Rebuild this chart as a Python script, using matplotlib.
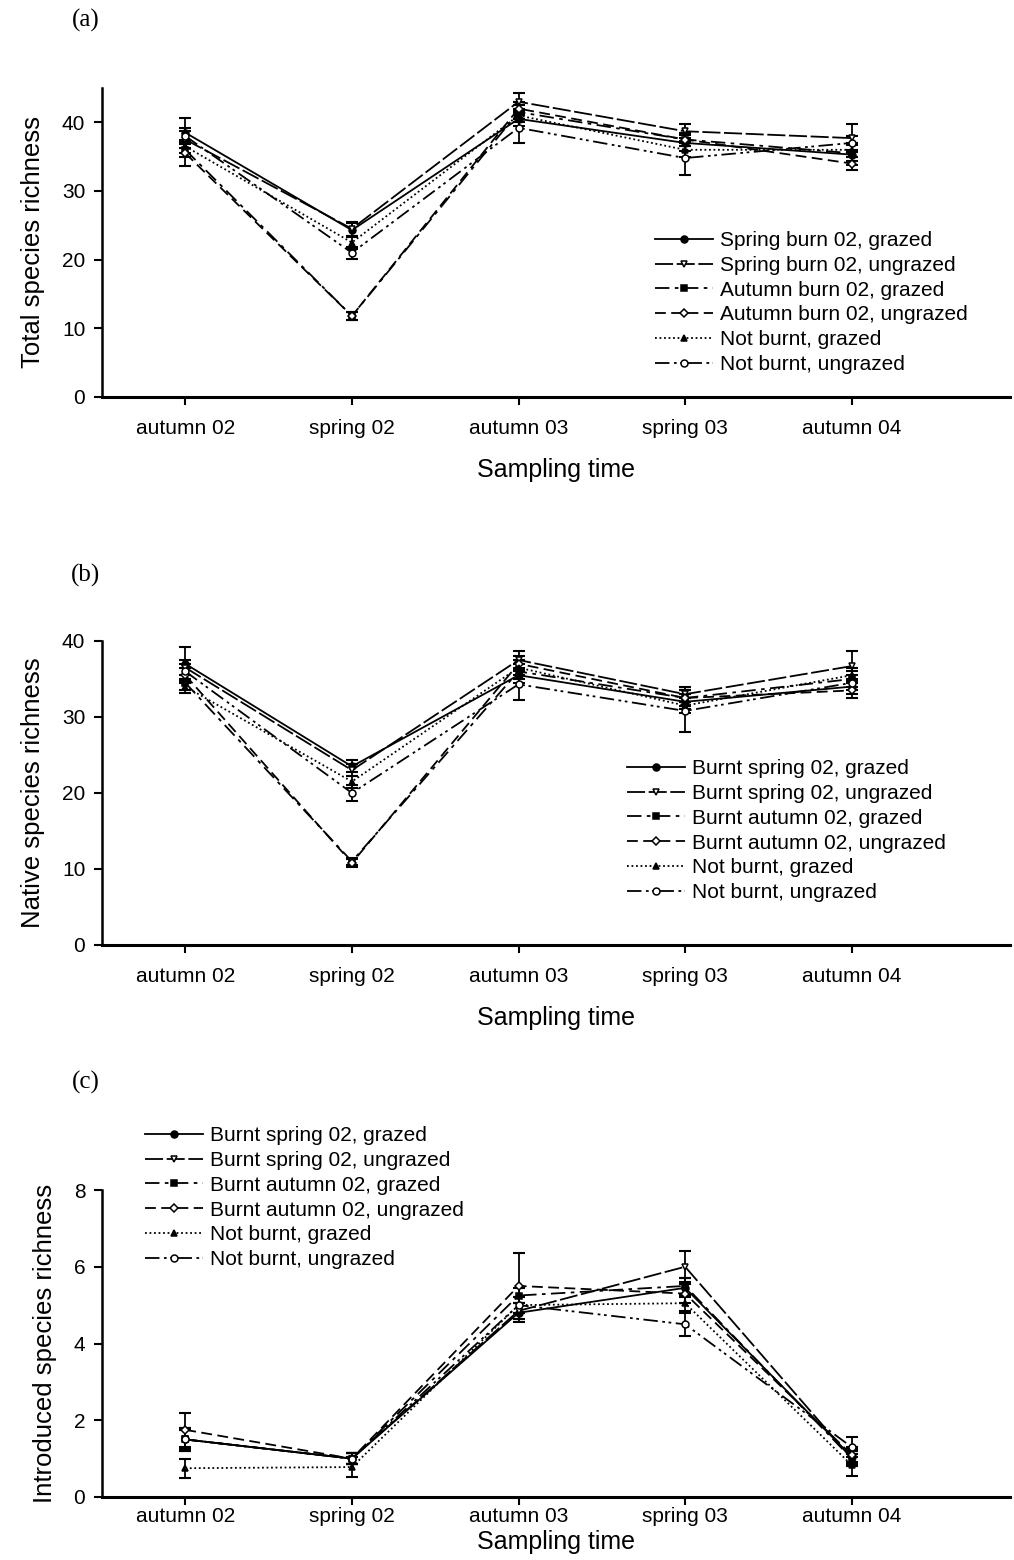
import matplotlib
matplotlib.use("Agg")
import matplotlib.pyplot as plt

plt.rcParams['font.family'] = ['Liberation Sans', 'DejaVu Sans']

times = ["autumn 02", "spring 02", "autumn 03", "spring 03", "autumn 04"]

labels_a = ["Spring burn 02, grazed", "Spring burn 02, ungrazed", "Autumn burn 02, grazed",
            "Autumn burn 02, ungrazed", "Not burnt, grazed", "Not burnt, ungrazed"]
labels_bc = ["Burnt spring 02, grazed", "Burnt spring 02, ungrazed", "Burnt autumn 02, grazed",
             "Burnt autumn 02, ungrazed", "Not burnt, grazed", "Not burnt, ungrazed"]

# Panel (a) total species richness
a_sbg = [38.5, 24.3, 40.5, 37.0, 35.3]
a_sbu = [37.5, 24.5, 43.0, 38.7, 37.7]
a_abg = [36.0, 11.8, 41.5, 37.5, 35.5]
a_abu = [35.5, 11.8, 42.0, 37.5, 34.0]
a_nbg = [36.5, 22.5, 41.0, 36.0, 36.0]
a_nbu = [38.0, 21.0, 39.2, 34.8, 37.0]
a_err_sbg = [2.2, 1.0, 1.0, 1.2, 1.5]
a_err_sbu = [1.2, 1.0, 1.3, 1.0, 2.0]
a_err_abg = [1.0, 0.6, 1.0, 1.0, 1.2]
a_err_abu = [1.8, 0.6, 1.0, 1.0, 1.0]
a_err_nbg = [1.0, 1.0, 1.0, 1.0, 1.0]
a_err_nbu = [1.2, 0.9, 2.2, 2.5, 1.0]

# Panel (b) native species richness
b_sbg = [37.0, 23.5, 35.5, 32.0, 34.0]
b_sbu = [36.5, 23.0, 37.5, 33.0, 36.7]
b_abg = [34.5, 11.0, 36.0, 32.5, 35.0]
b_abu = [35.5, 10.8, 37.0, 32.5, 33.5]
b_nbg = [34.0, 21.5, 36.5, 31.5, 35.5]
b_nbu = [36.0, 20.0, 34.3, 30.8, 34.5]
b_err_sbg = [2.2, 0.8, 1.0, 1.0, 1.0]
b_err_sbu = [1.0, 0.8, 1.2, 1.0, 2.0]
b_err_abg = [1.0, 0.5, 1.0, 1.0, 1.0]
b_err_abu = [1.0, 0.5, 1.0, 1.0, 1.0]
b_err_nbg = [0.8, 0.8, 1.0, 1.0, 1.0]
b_err_nbu = [1.0, 1.0, 2.0, 2.8, 1.0]

# Panel (c) introduced species richness
c_sbg = [1.5, 1.0, 4.8, 5.45, 1.05]
c_sbu = [1.5, 1.0, 4.85, 6.0, 1.0]
c_abg = [1.5, 1.0, 5.25, 5.5, 1.0]
c_abu = [1.75, 1.0, 5.5, 5.3, 1.1]
c_nbg = [0.75, 0.78, 5.0, 5.05, 0.83]
c_nbu = [1.5, 1.0, 5.0, 4.5, 1.3]
c_err_sbg = [0.3, 0.15, 0.25, 0.25, 0.2]
c_err_sbu = [0.25, 0.15, 0.2, 0.4, 0.2]
c_err_abg = [0.25, 0.15, 0.2, 0.2, 0.2]
c_err_abu = [0.45, 0.15, 0.85, 0.25, 0.2]
c_err_nbg = [0.25, 0.25, 0.2, 0.2, 0.28]
c_err_nbu = [0.3, 0.15, 0.2, 0.3, 0.27]

styles = [
    dict(ls='-', marker='o', mfc='black'),
    dict(ls=(0, (10, 2)), marker='v', mfc='white'),
    dict(ls=(0, (8, 3, 2, 3)), marker='s', mfc='black'),
    dict(ls=(0, (6, 3)), marker='D', mfc='white'),
    dict(ls=(0, (1, 1.5)), marker='^', mfc='black'),
    dict(ls=(0, (8, 2.5, 1.5, 2, 1.5, 2.5)), marker='o', mfc='white'),
]

fig = plt.figure(figsize=(10.14, 15.6), dpi=100)
L, W = 102 / 1014, 908 / 1014
ax_a = fig.add_axes([L, 1 - 397 / 1560, W, 309 / 1560])
ax_b = fig.add_axes([L, 1 - 945 / 1560, W, 304 / 1560])
ax_c = fig.add_axes([L, 1 - 1497 / 1560, W, 307 / 1560])

x = list(range(1, len(times) + 1))


def draw(ax, series, errs, labels, ylim, yticks, ylabel, leg_xy, xpad, xlabpad):
    handles = []
    for vals, err, lab, st in zip(series, errs, labels, styles):
        ms = 5 if st['marker'] != 'D' else 4.5
        ax.errorbar(x, vals, yerr=err, fmt='none', ecolor='black', elinewidth=1.3,
                    capsize=4.5, capthick=1.5, zorder=2)
        h, = ax.plot(x, vals, color='black', lw=1.3, ls=st['ls'], marker=st['marker'],
                     mfc=st['mfc'], mec='black', mew=1.1, ms=ms, label=lab, zorder=3)
        handles.append(h)
    ax.set_xlim(0.5, 5.95)
    ax.set_ylim(*ylim)
    ax.set_yticks(yticks)
    ax.set_xticks(x)
    ax.set_xticklabels(times)
    for s in ['top', 'right']:
        ax.spines[s].set_visible(False)
    ax.spines['left'].set_linewidth(1.8)
    ax.spines['bottom'].set_linewidth(2.2)
    ax.tick_params(axis='both', direction='out', length=6, width=1.5, labelsize=15, pad=6)
    ax.tick_params(axis='x', pad=xpad)
    ax.set_ylabel(ylabel, fontsize=18.5, labelpad=12)
    ax.set_xlabel("Sampling time", fontsize=18, labelpad=xlabpad)
    leg = ax.legend(handles=handles, loc='upper left', bbox_to_anchor=leg_xy,
                    bbox_transform=fig.transFigure, frameon=False, fontsize=15,
                    handlelength=2.8, handletextpad=0.3, labelspacing=0.28,
                    borderpad=0, borderaxespad=0)
    leg.set_clip_on(False)


draw(ax_a, [a_sbg, a_sbu, a_abg, a_abu, a_nbg, a_nbu],
     [a_err_sbg, a_err_sbu, a_err_abg, a_err_abu, a_err_nbg, a_err_nbu],
     labels_a, (0, 45), [0, 10, 20, 30, 40], "Total species richness",
     (655 / 1014, 1 - 231 / 1560), 10, 14)
draw(ax_b, [b_sbg, b_sbu, b_abg, b_abu, b_nbg, b_nbu],
     [b_err_sbg, b_err_sbu, b_err_abg, b_err_abu, b_err_nbg, b_err_nbu],
     labels_bc, (0, 40), [0, 10, 20, 30, 40], "Native species richness",
     (627 / 1014, 1 - 759 / 1560), 10, 14)
draw(ax_c, [c_sbg, c_sbu, c_abg, c_abu, c_nbg, c_nbu],
     [c_err_sbg, c_err_sbu, c_err_abg, c_err_abu, c_err_nbg, c_err_nbu],
     labels_bc, (0, 8), [0, 2, 4, 6, 8], "Introduced species richness",
     (145 / 1014, 1 - 1126 / 1560), 1, 3)

for lab, yy in [("(a)", 20), ("(b)", 575), ("(c)", 1082)]:
    fig.text(86 / 1014, 1 - yy / 1560, lab, fontsize=18, family='Liberation Serif',
             ha='center', va='center')

fig.savefig("out.png", dpi=100)
